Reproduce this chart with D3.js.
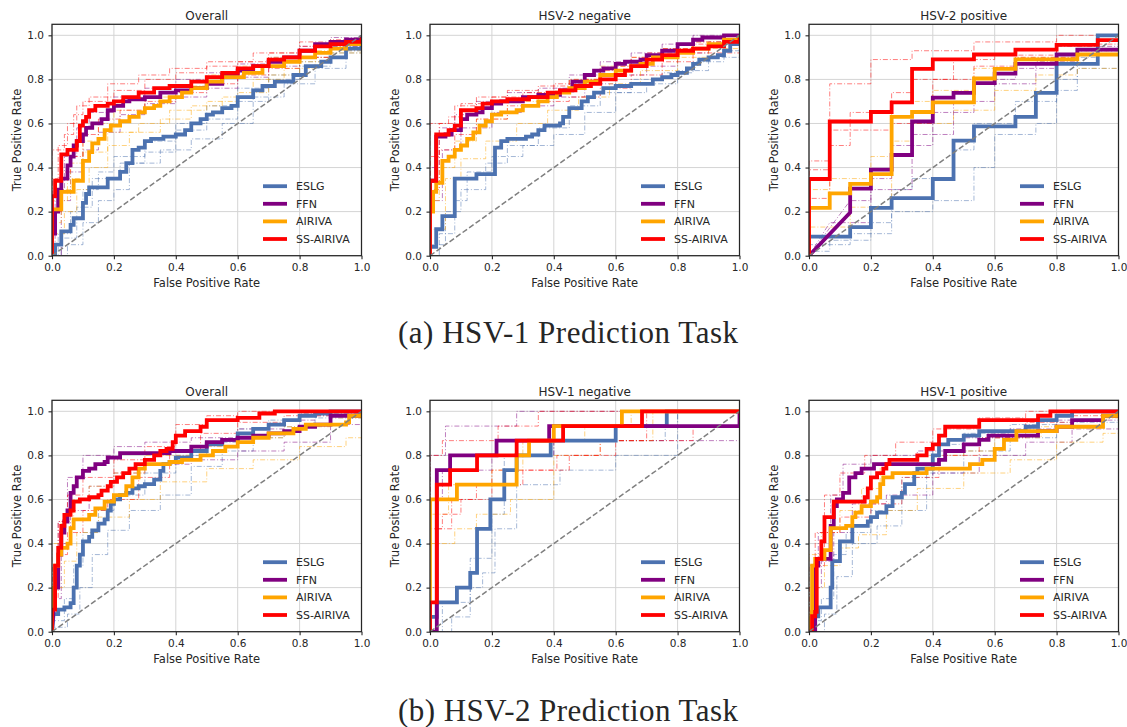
<!DOCTYPE html>
<html>
<head>
<meta charset="utf-8">
<script src="https://cdn.jsdelivr.net/npm/d3@7"></script>
<style>
  body { margin: 0; background: #fff; }
  svg { display: block; }
  text { font-family: "DejaVu Sans", sans-serif; fill: #262626; }
</style>
</head>
<body>
<div id="chart"></div>
<script>
// ---- data ----
const models = ["ESLG", "FFN", "AIRIVA", "SS-AIRIVA"];
const colors = ["#4c72b0", "#800080", "#ffa500", "#ff0000"];
const tickValues = [0, 0.2, 0.4, 0.6, 0.8, 1.0];
const titles = ["Overall", "HSV-2 negative", "HSV-2 positive", "Overall", "HSV-1 negative", "HSV-1 positive"];
const captions = ["(a) HSV-1 Prediction Task", "(b) HSV-2 Prediction Task"];

// mean ROC curves: [fpr, tpr] where tpr jumps at fpr; a third value 1 means a diagonal segment
const hsv1Overall = [
  [[0,0],[0.01,0.05],[0.03,0.11],[0.06,0.14],[0.07,0.17],[0.1,0.24],[0.11,0.28],[0.12,0.31],[0.18,0.35],[0.22,0.38],[0.24,0.42],[0.26,0.48],[0.28,0.49],[0.3,0.52],[0.32,0.53],[0.36,0.54],[0.4,0.55],[0.43,0.57],[0.45,0.6],[0.48,0.62],[0.5,0.64],[0.52,0.65],[0.55,0.67],[0.58,0.68],[0.6,0.72],[0.65,0.75],[0.68,0.77],[0.72,0.79],[0.78,0.82],[0.82,0.86],[0.87,0.88],[0.9,0.9],[0.95,0.94],[1,0.98]],
  [[0,0],[0,0.1],[0.01,0.2],[0.02,0.3],[0.03,0.35],[0.05,0.41],[0.06,0.45],[0.07,0.5],[0.08,0.52],[0.1,0.55],[0.11,0.58],[0.13,0.6],[0.16,0.62],[0.18,0.66],[0.2,0.68],[0.23,0.7],[0.25,0.71],[0.3,0.72],[0.35,0.74],[0.4,0.75],[0.45,0.76],[0.5,0.78],[0.55,0.82],[0.6,0.84],[0.65,0.86],[0.7,0.88],[0.75,0.9],[0.8,0.93],[0.85,0.96],[0.9,0.97],[0.95,0.98],[1,1]],
  [[0,0],[0,0.21],[0.03,0.29],[0.07,0.34],[0.1,0.43],[0.12,0.47],[0.13,0.51],[0.15,0.53],[0.17,0.57],[0.19,0.59],[0.22,0.61],[0.25,0.63],[0.28,0.65],[0.3,0.67],[0.33,0.68],[0.35,0.7],[0.38,0.72],[0.42,0.74],[0.45,0.76],[0.5,0.79],[0.55,0.81],[0.62,0.83],[0.68,0.86],[0.75,0.88],[0.8,0.9],[0.85,0.92],[0.9,0.94],[0.95,0.96],[1,0.98]],
  [[0,0],[0,0.27],[0.01,0.34],[0.03,0.46],[0.05,0.48],[0.08,0.52],[0.09,0.59],[0.1,0.61],[0.11,0.63],[0.12,0.66],[0.14,0.68],[0.18,0.69],[0.2,0.7],[0.23,0.72],[0.28,0.74],[0.33,0.76],[0.38,0.77],[0.45,0.79],[0.5,0.81],[0.55,0.83],[0.6,0.85],[0.65,0.86],[0.7,0.89],[0.75,0.9],[0.8,0.93],[0.85,0.95],[0.9,0.96],[0.95,0.97],[1,0.99]]
];
const hsv2Negative = [
  [[0,0],[0,0.04],[0.02,0.12],[0.04,0.18],[0.08,0.35],[0.15,0.37],[0.21,0.49],[0.23,0.52],[0.25,0.53],[0.31,0.54],[0.33,0.55],[0.35,0.57],[0.37,0.59],[0.42,0.6],[0.43,0.63],[0.45,0.67],[0.49,0.7],[0.51,0.72],[0.53,0.74],[0.56,0.76],[0.6,0.77],[0.65,0.78],[0.72,0.8],[0.75,0.81],[0.78,0.82],[0.8,0.83],[0.83,0.85],[0.85,0.87],[0.87,0.89],[0.9,0.9],[0.93,0.91],[0.95,0.93],[0.97,0.96],[1,0.98]],
  [[0,0],[0,0.34],[0.02,0.54],[0.05,0.55],[0.07,0.57],[0.1,0.62],[0.12,0.64],[0.15,0.65],[0.17,0.67],[0.2,0.69],[0.23,0.7],[0.3,0.72],[0.35,0.73],[0.42,0.75],[0.46,0.79],[0.5,0.82],[0.53,0.84],[0.56,0.85],[0.6,0.87],[0.63,0.88],[0.68,0.89],[0.7,0.91],[0.75,0.93],[0.8,0.96],[0.85,0.98],[0.88,0.99],[0.95,1],[1,1]],
  [[0,0],[0,0.2],[0.01,0.29],[0.02,0.33],[0.04,0.43],[0.06,0.45],[0.08,0.48],[0.1,0.5],[0.12,0.53],[0.14,0.56],[0.16,0.59],[0.18,0.61],[0.2,0.64],[0.23,0.65],[0.28,0.66],[0.3,0.68],[0.35,0.7],[0.38,0.72],[0.41,0.74],[0.45,0.76],[0.5,0.79],[0.55,0.82],[0.6,0.84],[0.65,0.86],[0.68,0.87],[0.72,0.9],[0.8,0.92],[0.85,0.94],[0.9,0.96],[0.95,0.98],[1,1]],
  [[0,0],[0,0.34],[0.02,0.55],[0.06,0.57],[0.08,0.59],[0.1,0.66],[0.15,0.67],[0.17,0.69],[0.2,0.7],[0.25,0.71],[0.32,0.72],[0.38,0.74],[0.42,0.75],[0.47,0.77],[0.52,0.78],[0.55,0.8],[0.6,0.82],[0.63,0.84],[0.65,0.86],[0.7,0.89],[0.75,0.91],[0.8,0.93],[0.85,0.94],[0.9,0.95],[0.95,0.97],[1,0.99]]
];
const hsv2Positive = [
  [[0,0],[0,0.087],[0.133,0.13],[0.2,0.217],[0.267,0.261],[0.4,0.348],[0.467,0.522],[0.533,0.587],[0.667,0.63],[0.733,0.739],[0.8,0.87],[0.933,1],[1,1]],
  [[0,0],[0.133,0.196,1],[0.133,0.304],[0.2,0.391],[0.267,0.457],[0.333,0.609],[0.4,0.717],[0.467,0.739],[0.533,0.783],[0.6,0.826],[0.667,0.87],[0.8,0.913],[0.867,0.935],[1,0.935]],
  [[0,0],[0,0.217],[0.067,0.283],[0.133,0.326],[0.2,0.37],[0.267,0.63],[0.333,0.652],[0.4,0.696],[0.533,0.804],[0.6,0.848],[0.667,0.891],[0.867,0.913],[1,0.913]],
  [[0,0],[0,0.348],[0.067,0.609],[0.2,0.652],[0.267,0.696],[0.333,0.848],[0.4,0.891],[0.533,0.913],[0.667,0.935],[0.8,0.957],[0.933,0.978],[1,0.978]]
];
const hsv2Overall = [
  [[0,0],[0.005,0.08,1],[0.02,0.1],[0.04,0.11],[0.06,0.13],[0.07,0.2],[0.08,0.3],[0.09,0.35],[0.1,0.41],[0.12,0.43],[0.13,0.46],[0.15,0.49],[0.17,0.51],[0.18,0.55],[0.19,0.58],[0.2,0.6],[0.22,0.62],[0.24,0.63],[0.26,0.65],[0.28,0.66],[0.3,0.67],[0.33,0.69],[0.35,0.73],[0.36,0.76],[0.38,0.77],[0.4,0.79],[0.45,0.82],[0.5,0.85],[0.55,0.87],[0.6,0.9],[0.65,0.92],[0.7,0.94],[0.75,0.96],[0.8,0.98],[0.85,0.99],[0.9,1],[1,1]],
  [[0,0],[0.01,0.2,1],[0.02,0.35],[0.03,0.45],[0.04,0.5],[0.05,0.55],[0.06,0.63],[0.07,0.66],[0.08,0.7],[0.1,0.73],[0.12,0.74],[0.14,0.76],[0.17,0.77],[0.18,0.79],[0.22,0.81],[0.38,0.82],[0.45,0.84],[0.5,0.86],[0.55,0.87],[0.6,0.88],[0.65,0.89],[0.7,0.9],[0.75,0.91],[0.8,0.93],[0.85,0.94],[0.9,0.98],[1,1]],
  [[0,0],[0,0.2],[0.01,0.3],[0.02,0.35],[0.03,0.38],[0.05,0.4],[0.06,0.47],[0.07,0.51],[0.12,0.53],[0.14,0.56],[0.17,0.59],[0.2,0.62],[0.24,0.66],[0.26,0.7],[0.28,0.74],[0.3,0.76],[0.38,0.77],[0.42,0.78],[0.48,0.8],[0.52,0.82],[0.56,0.84],[0.6,0.86],[0.65,0.88],[0.7,0.9],[0.78,0.92],[0.82,0.94],[0.95,0.95],[0.96,0.98],[1,1]],
  [[0,0],[0,0.1],[0.01,0.2],[0.01,0.3],[0.02,0.38],[0.03,0.48],[0.04,0.53],[0.06,0.55],[0.07,0.59],[0.09,0.6],[0.12,0.61],[0.15,0.62],[0.16,0.64],[0.18,0.66],[0.19,0.68],[0.21,0.7],[0.23,0.72],[0.25,0.74],[0.27,0.76],[0.3,0.78],[0.33,0.8],[0.35,0.82],[0.37,0.83],[0.39,0.86],[0.4,0.89],[0.43,0.91],[0.48,0.93],[0.5,0.96],[0.6,0.97],[0.67,0.99],[0.72,1],[1,1]]
];
const hsv1Negative = [
  [[0,0],[0,0.067],[0.022,0.133],[0.087,0.2],[0.13,0.267],[0.152,0.467],[0.195,0.6],[0.24,0.733],[0.28,0.8],[0.39,0.867],[0.6,0.933],[0.765,1],[1,1]],
  [[0,0],[0.022,0.733],[0.065,0.8],[0.215,0.867],[0.385,0.933],[1,0.933],[1,1]],
  [[0,0],[0,0.6],[0.087,0.667],[0.28,0.8],[0.32,0.867],[0.4,0.933],[0.62,1],[1,1]],
  [[0,0],[0,0.133],[0.022,0.667],[0.065,0.733],[0.152,0.8],[0.28,0.867],[0.43,0.933],[0.685,1],[1,1]]
];
const hsv1Positive = [
  [[0,0],[0.02,0.07,1],[0.03,0.11],[0.07,0.2],[0.075,0.32],[0.1,0.41],[0.14,0.48],[0.19,0.5],[0.2,0.52],[0.22,0.54],[0.25,0.57],[0.27,0.61],[0.3,0.63],[0.31,0.67],[0.34,0.72],[0.35,0.74],[0.4,0.8],[0.42,0.85],[0.45,0.87],[0.5,0.89],[0.55,0.91],[0.7,0.93],[0.74,0.96],[0.8,0.98],[0.85,1],[1,1]],
  [[0,0],[0.02,0.3],[0.03,0.33],[0.07,0.48],[0.08,0.57],[0.09,0.6],[0.11,0.63],[0.13,0.7],[0.15,0.72],[0.17,0.74],[0.21,0.76],[0.42,0.78],[0.44,0.82],[0.5,0.85],[0.55,0.87],[0.58,0.89],[0.74,0.91],[0.8,0.93],[0.85,0.96],[0.95,0.98],[1,1]],
  [[0,0],[0.01,0.1,1],[0.01,0.3],[0.02,0.33],[0.05,0.37],[0.07,0.47],[0.12,0.48],[0.14,0.52],[0.15,0.54],[0.17,0.57],[0.2,0.59],[0.22,0.61],[0.23,0.67],[0.24,0.7],[0.27,0.72],[0.38,0.74],[0.52,0.76],[0.56,0.78],[0.6,0.83],[0.63,0.87],[0.67,0.91],[0.8,0.93],[0.95,0.98],[1,1]],
  [[0,0],[0.01,0.07],[0.02,0.09],[0.025,0.33],[0.04,0.41],[0.05,0.52],[0.08,0.59],[0.18,0.61],[0.19,0.65],[0.2,0.7],[0.22,0.72],[0.24,0.74],[0.25,0.76],[0.26,0.78],[0.35,0.8],[0.38,0.83],[0.4,0.85],[0.42,0.89],[0.44,0.93],[0.55,0.96],[0.74,0.98],[0.78,1],[1,1]]
];

// thin per-fold curves (estimated by eye)
const hsv1OverallFolds = [
  [[[0,0],[0.02,0.1],[0.06,0.2],[0.1,0.3],[0.15,0.38],[0.2,0.45],[0.3,0.52],[0.4,0.6],[0.5,0.68],[0.6,0.76],[0.7,0.8],[0.8,0.86],[0.9,0.92],[1,1]],
   [[0,0],[0.05,0.05],[0.1,0.15],[0.15,0.25],[0.2,0.3],[0.25,0.42],[0.35,0.48],[0.45,0.53],[0.55,0.6],[0.65,0.72],[0.75,0.78],[0.85,0.85],[0.95,0.93],[1,0.97]],
   [[0,0],[0.03,0.08],[0.08,0.22],[0.13,0.35],[0.22,0.42],[0.3,0.47],[0.4,0.57],[0.5,0.62],[0.6,0.7],[0.7,0.82],[0.8,0.88],[0.9,0.95],[1,1]]],
  [[[0,0],[0.01,0.3],[0.04,0.45],[0.08,0.58],[0.12,0.65],[0.2,0.72],[0.3,0.76],[0.4,0.8],[0.5,0.83],[0.6,0.87],[0.7,0.9],[0.8,0.95],[0.9,0.99],[1,1]],
   [[0,0],[0.03,0.25],[0.06,0.38],[0.1,0.48],[0.15,0.56],[0.22,0.64],[0.3,0.69],[0.4,0.72],[0.5,0.76],[0.6,0.81],[0.7,0.86],[0.8,0.9],[0.9,0.95],[1,0.98]]],
  [[[0,0],[0,0.15],[0.03,0.3],[0.06,0.42],[0.1,0.52],[0.15,0.6],[0.2,0.66],[0.3,0.72],[0.4,0.77],[0.5,0.82],[0.6,0.86],[0.7,0.9],[0.8,0.93],[0.9,0.96],[1,0.99]],
   [[0,0],[0,0.1],[0.04,0.2],[0.08,0.3],[0.12,0.4],[0.18,0.5],[0.25,0.56],[0.35,0.62],[0.45,0.68],[0.55,0.72],[0.65,0.8],[0.75,0.85],[0.85,0.9],[0.95,0.93],[1,0.95]],
   [[0,0],[0,0.25],[0.05,0.35],[0.1,0.47],[0.18,0.56],[0.28,0.6],[0.38,0.66],[0.5,0.7],[0.6,0.74],[0.7,0.82],[0.8,0.88],[0.9,0.92],[1,0.97]]],
  [[[0,0],[0,0.35],[0.02,0.5],[0.05,0.6],[0.08,0.68],[0.12,0.72],[0.2,0.75],[0.3,0.8],[0.4,0.83],[0.5,0.86],[0.6,0.88],[0.7,0.92],[0.8,0.95],[0.9,0.98],[1,1]],
   [[0,0],[0,0.2],[0.03,0.38],[0.06,0.45],[0.1,0.55],[0.15,0.62],[0.22,0.66],[0.3,0.7],[0.4,0.74],[0.5,0.78],[0.6,0.82],[0.7,0.85],[0.8,0.9],[0.9,0.94],[1,0.97]],
   [[0,0],[0,0.48],[0.04,0.55],[0.07,0.64],[0.1,0.7],[0.18,0.78],[0.28,0.82],[0.38,0.85],[0.5,0.88],[0.65,0.92],[0.8,0.97],[1,1]]]
];
const hsv2NegativeFolds = [
  [[[0,0],[0.03,0.1],[0.08,0.25],[0.12,0.38],[0.2,0.45],[0.3,0.5],[0.4,0.55],[0.5,0.65],[0.6,0.74],[0.7,0.78],[0.8,0.84],[0.9,0.9],[1,0.95]],
   [[0,0],[0,0.05],[0.05,0.2],[0.1,0.3],[0.18,0.42],[0.25,0.5],[0.35,0.58],[0.45,0.68],[0.55,0.74],[0.65,0.8],[0.75,0.83],[0.85,0.88],[0.95,0.93],[1,1]]],
  [[[0,0],[0,0.4],[0.03,0.58],[0.08,0.64],[0.15,0.7],[0.25,0.74],[0.35,0.76],[0.45,0.82],[0.55,0.88],[0.65,0.92],[0.75,0.96],[0.85,1],[1,1]],
   [[0,0],[0,0.25],[0.04,0.48],[0.1,0.58],[0.2,0.65],[0.3,0.68],[0.4,0.72],[0.5,0.78],[0.6,0.82],[0.7,0.86],[0.8,0.92],[0.9,0.97],[1,1]]],
  [[[0,0],[0,0.25],[0.03,0.4],[0.08,0.52],[0.15,0.62],[0.25,0.7],[0.35,0.74],[0.45,0.8],[0.55,0.86],[0.65,0.9],[0.75,0.94],[0.85,0.97],[1,1]],
   [[0,0],[0,0.12],[0.05,0.35],[0.1,0.44],[0.18,0.52],[0.28,0.6],[0.38,0.66],[0.48,0.72],[0.58,0.78],[0.68,0.84],[0.8,0.9],[0.9,0.94],[1,0.98]]],
  [[[0,0],[0,0.45],[0.03,0.6],[0.08,0.68],[0.15,0.72],[0.25,0.75],[0.35,0.77],[0.45,0.8],[0.55,0.84],[0.65,0.9],[0.75,0.94],[0.85,0.96],[1,1]],
   [[0,0],[0,0.3],[0.03,0.48],[0.08,0.55],[0.15,0.62],[0.25,0.68],[0.35,0.7],[0.45,0.72],[0.55,0.76],[0.65,0.82],[0.75,0.88],[0.85,0.92],[1,0.96]],
   [[0,0],[0,0.6],[0.06,0.63],[0.1,0.69],[0.2,0.72],[0.3,0.74],[0.4,0.78],[0.5,0.8],[0.6,0.86],[0.7,0.92],[0.85,0.97],[1,1]]]
];
const hsv2PositiveFolds = [
  [[[0,0],[0,0.02],[0.067,0.07],[0.2,0.15],[0.267,0.3],[0.333,0.35],[0.467,0.48],[0.533,0.6],[0.667,0.7],[0.8,0.8],[0.867,0.9],[0.933,1],[1,1]],
   [[0,0],[0,0.05],[0.133,0.1],[0.267,0.2],[0.4,0.25],[0.533,0.4],[0.6,0.55],[0.733,0.6],[0.8,0.75],[0.867,0.85],[1,0.95]]],
  [[[0,0],[0.133,0.25,1],[0.2,0.35],[0.267,0.5],[0.4,0.65],[0.533,0.8],[0.667,0.85],[0.8,0.95],[1,0.98]],
   [[0,0],[0.067,0.15,1],[0.2,0.3],[0.333,0.55],[0.467,0.7],[0.6,0.78],[0.733,0.88],[0.867,0.93],[1,0.95]]],
  [[[0,0],[0,0.3],[0.067,0.35],[0.2,0.45],[0.267,0.7],[0.4,0.75],[0.533,0.85],[0.667,0.9],[0.867,0.93],[1,0.95]],
   [[0,0],[0,0.13],[0.133,0.22],[0.267,0.52],[0.333,0.6],[0.467,0.66],[0.6,0.75],[0.733,0.82],[0.867,0.85],[1,0.85]]],
  [[[0,0],[0,0.43],[0.067,0.78],[0.2,0.89],[0.333,0.93],[0.533,0.97],[0.8,1],[1,1]],
   [[0,0],[0,0.26],[0.067,0.5],[0.133,0.57],[0.267,0.6],[0.4,0.8],[0.533,0.86],[0.667,0.9],[0.867,0.93],[1,0.96]],
   [[0,0],[0,0.39],[0.067,0.57],[0.133,0.65],[0.267,0.74],[0.333,0.8],[0.467,0.89],[0.6,0.91],[0.8,0.96],[1,0.98]]]
];
const hsv2OverallFolds = [
  [[[0,0],[0,0.05],[0.04,0.15],[0.07,0.3],[0.1,0.45],[0.15,0.55],[0.2,0.62],[0.3,0.72],[0.4,0.8],[0.5,0.86],[0.6,0.92],[0.7,0.96],[0.8,0.99],[1,1]],
   [[0,0],[0,0.02],[0.05,0.08],[0.09,0.2],[0.13,0.35],[0.18,0.46],[0.25,0.55],[0.35,0.62],[0.45,0.75],[0.55,0.82],[0.65,0.88],[0.75,0.93],[0.85,0.97],[1,1]]],
  [[[0,0],[0,0.3],[0.02,0.5],[0.05,0.7],[0.1,0.8],[0.2,0.84],[0.3,0.86],[0.45,0.88],[0.6,0.92],[0.75,0.96],[0.85,0.98],[1,1]],
   [[0,0],[0,0.15],[0.03,0.4],[0.06,0.55],[0.12,0.66],[0.2,0.72],[0.3,0.76],[0.45,0.78],[0.6,0.82],[0.75,0.86],[0.9,0.94],[1,0.98]]],
  [[[0,0],[0,0.4],[0.03,0.5],[0.07,0.6],[0.12,0.66],[0.2,0.72],[0.3,0.8],[0.45,0.84],[0.6,0.88],[0.75,0.93],[0.9,0.97],[1,1]],
   [[0,0],[0,0.2],[0.04,0.32],[0.08,0.45],[0.15,0.52],[0.25,0.6],[0.35,0.68],[0.5,0.74],[0.65,0.78],[0.8,0.84],[0.95,0.88],[1,0.95]]],
  [[[0,0],[0,0.3],[0.02,0.5],[0.05,0.62],[0.1,0.7],[0.2,0.78],[0.3,0.84],[0.4,0.94],[0.5,0.98],[0.6,1],[1,1]],
   [[0,0],[0,0.15],[0.02,0.35],[0.05,0.45],[0.1,0.55],[0.18,0.6],[0.28,0.7],[0.38,0.82],[0.48,0.9],[0.6,0.95],[0.75,0.98],[1,1]]]
];
const hsv1NegativeFolds = [
  [[[0,0],[0.04,0.133],[0.13,0.333],[0.2,0.533],[0.24,0.8],[0.4,0.867],[0.76,0.933],[0.8,1],[1,1]],
   [[0,0],[0.07,0.067],[0.13,0.2],[0.17,0.267],[0.21,0.467],[0.28,0.667],[0.42,0.733],[0.6,0.8],[0.8,1],[1,1]]],
  [[[0,0],[0,0.8],[0.05,0.933],[0.28,1],[1,1]],
   [[0,0],[0,0.6],[0.04,0.733],[0.2,0.8],[0.4,0.867],[1,0.867]]],
  [[[0,0],[0,0.533],[0.06,0.667],[0.2,0.733],[0.3,0.867],[0.5,0.933],[0.65,1],[1,1]],
   [[0,0],[0,0.4],[0.08,0.467],[0.15,0.533],[0.26,0.6],[0.4,0.8],[0.55,0.867],[0.72,1],[1,1]]],
  [[[0,0],[0,0.8],[0.04,0.867],[0.22,0.933],[0.35,1],[1,1]],
   [[0,0],[0,0.2],[0.02,0.467],[0.07,0.6],[0.2,0.733],[0.41,0.8],[0.6,0.867],[0.85,0.933],[1,1]],
   [[0,0],[0,0.467],[0.04,0.533],[0.1,0.6],[0.15,0.667],[0.3,0.733],[0.45,0.8],[0.55,0.867],[0.7,1],[1,1]]]
];
const hsv1PositiveFolds = [
  [[[0,0],[0,0.05],[0.04,0.15],[0.08,0.35],[0.12,0.45],[0.2,0.55],[0.3,0.7],[0.4,0.85],[0.5,0.9],[0.65,0.94],[0.8,1],[1,1]],
   [[0,0],[0.05,0.08],[0.09,0.25],[0.14,0.4],[0.22,0.48],[0.3,0.55],[0.38,0.72],[0.5,0.82],[0.65,0.88],[0.8,0.95],[1,1]]],
  [[[0,0],[0,0.3],[0.03,0.45],[0.07,0.62],[0.11,0.76],[0.2,0.8],[0.35,0.82],[0.5,0.88],[0.65,0.92],[0.8,0.96],[1,1]],
   [[0,0],[0,0.2],[0.04,0.32],[0.08,0.45],[0.14,0.58],[0.25,0.62],[0.4,0.72],[0.55,0.8],[0.7,0.86],[0.85,0.92],[1,0.98]]],
  [[[0,0],[0,0.35],[0.04,0.45],[0.1,0.55],[0.17,0.65],[0.23,0.76],[0.35,0.8],[0.5,0.82],[0.6,0.88],[0.75,0.93],[0.95,0.97],[1,1]],
   [[0,0],[0,0.2],[0.05,0.3],[0.1,0.38],[0.16,0.44],[0.25,0.55],[0.35,0.65],[0.5,0.72],[0.65,0.78],[0.8,0.86],[0.95,0.9],[1,0.95]]],
  [[[0,0],[0,0.2],[0.02,0.45],[0.05,0.62],[0.1,0.72],[0.18,0.8],[0.28,0.86],[0.4,0.92],[0.55,0.97],[0.7,1],[1,1]],
   [[0,0],[0,0.05],[0.02,0.3],[0.05,0.45],[0.1,0.52],[0.2,0.58],[0.3,0.7],[0.42,0.8],[0.55,0.88],[0.7,0.95],[0.85,0.98],[1,1]]]
];

const panelMeans = [hsv1Overall, hsv2Negative, hsv2Positive, hsv2Overall, hsv1Negative, hsv1Positive];
const panelFolds = [hsv1OverallFolds, hsv2NegativeFolds, hsv2PositiveFolds, hsv2OverallFolds, hsv1NegativeFolds, hsv1PositiveFolds];

// ---- layout ----
const width = 1127, height = 727;
const colLeft = [52, 430, 809];
const rowTop = [24.3, 400.3];
const pw = 309.5, ph = 231.4;

const svg = d3.select("#chart").append("svg")
    .attr("width", width)
    .attr("height", height);

// turn jump points into corner points of a step line
function toSteps(pts) {
    const out = [[pts[0][0], pts[0][1]]];
    for (let i = 1; i < pts.length; i++) {
        const [px, py, diag] = pts[i];
        const last = out[out.length - 1];
        if (!diag && px !== last[0]) out.push([px, last[1]]);
        out.push([px, py]);
    }
    return out;
}

function drawPanel(i) {
    const left = colLeft[i % 3], top = rowTop[Math.floor(i / 3)];
    const g = svg.append("g").attr("transform", `translate(${left},${top})`);

    const x = d3.scaleLinear().domain([0, 1]).range([0, pw]);
    const y = d3.scaleLinear().domain([0, 1.05]).range([ph, 0]);

    // grid
    g.append("g").selectAll("line").data(tickValues).join("line")
        .attr("x1", d => x(d)).attr("x2", d => x(d))
        .attr("y1", 0).attr("y2", ph)
        .attr("stroke", "#d4d4d4").attr("stroke-width", 1);
    g.append("g").selectAll("line").data(tickValues).join("line")
        .attr("x1", 0).attr("x2", pw)
        .attr("y1", d => y(d)).attr("y2", d => y(d))
        .attr("stroke", "#d4d4d4").attr("stroke-width", 1);

    const clipId = "clip" + i;
    g.append("clipPath").attr("id", clipId)
        .append("rect").attr("width", pw).attr("height", ph);
    const plot = g.append("g").attr("clip-path", `url(#${clipId})`);

    const line = d3.line().x(d => x(d[0])).y(d => y(d[1]));

    // folds
    panelFolds[i].forEach((folds, m) => {
        folds.forEach(f => {
            plot.append("path")
                .attr("d", line(toSteps(f)))
                .attr("fill", "none")
                .attr("stroke", colors[m])
                .attr("stroke-width", 1)
                .attr("stroke-opacity", 0.5)
                .attr("stroke-dasharray", "5,2,1,2");
        });
    });

    // mean curves
    panelMeans[i].forEach((pts, m) => {
        plot.append("path")
            .attr("d", line(toSteps(pts)))
            .attr("fill", "none")
            .attr("stroke", colors[m])
            .attr("stroke-width", 3.8)
            .attr("stroke-linejoin", "miter");
    });

    // chance diagonal
    plot.append("line")
        .attr("x1", x(0)).attr("y1", y(0))
        .attr("x2", x(1)).attr("y2", y(1))
        .attr("stroke", "#7f7f7f")
        .attr("stroke-width", 1.5)
        .attr("stroke-dasharray", "5.5,2.5");

    // axes
    const fmt = d3.format(".1f");
    const xAxis = g.append("g").attr("transform", `translate(0,${ph})`)
        .call(d3.axisBottom(x).tickValues(tickValues).tickFormat(fmt).tickSize(3.5).tickPadding(4));
    const yAxis = g.append("g")
        .call(d3.axisLeft(y).tickValues(tickValues).tickFormat(fmt).tickSize(3.5).tickPadding(4.5));
    [xAxis, yAxis].forEach(a => {
        a.select(".domain").remove();
        a.selectAll(".tick line").attr("stroke", "#262626").attr("stroke-width", 1.1);
        a.selectAll(".tick text").attr("fill", "#262626")
            .style("font-family", "DejaVu Sans").style("font-size", "10.5px");
    });

    // frame
    g.append("rect").attr("width", pw).attr("height", ph)
        .attr("fill", "none").attr("stroke", "#262626").attr("stroke-width", 1.25);

    g.append("text").attr("x", pw / 2).attr("y", -8.6).attr("dy", "0.35em")
        .attr("text-anchor", "middle").style("font-size", "12px").text(titles[i]);
    g.append("text").attr("x", pw / 2).attr("y", ph + 27.5).attr("dy", "0.35em")
        .attr("text-anchor", "middle").style("font-size", "11.5px").text("False Positive Rate");
    g.append("text").attr("transform", `translate(-35,${ph / 2}) rotate(-90)`).attr("dy", "0.35em")
        .attr("text-anchor", "middle").style("font-size", "11.5px").text("True Positive Rate");

    // legend
    const lg = g.append("g").attr("transform", `translate(211,${ph - 69.5})`);
    models.forEach((name, m) => {
        const row = lg.append("g").attr("transform", `translate(0,${m * 17.6})`);
        row.append("line").attr("x1", 0).attr("x2", 24).attr("y1", 0).attr("y2", 0)
            .attr("stroke", colors[m]).attr("stroke-width", 3.8);
        row.append("text").attr("x", 33).attr("dy", "0.35em")
            .style("font-size", "11px").text(name);
    });
}

for (let i = 0; i < 6; i++) drawPanel(i);

// sub-figure captions
[343, 721].forEach((yy, k) => {
    svg.append("text")
        .attr("x", 568).attr("y", yy)
        .attr("text-anchor", "middle")
        .attr("textLength", 340)
        .attr("lengthAdjust", "spacing")
        .style("font-family", "'Liberation Serif', serif")
        .style("font-size", "31px")
        .text(captions[k]);
});
</script>
</body>
</html>
